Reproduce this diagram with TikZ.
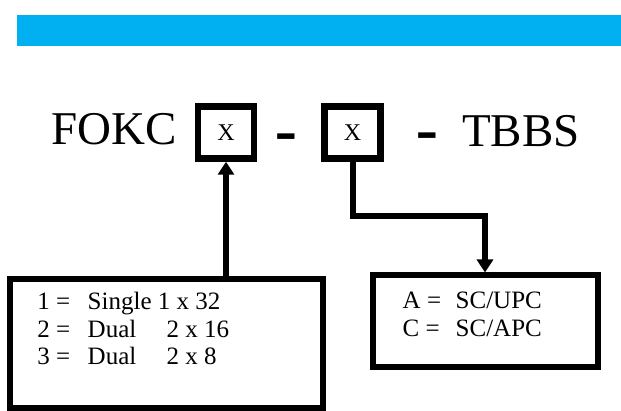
\documentclass[tikz,border=0pt]{standalone}
\usepackage{fontspec}
\setmainfont{Liberation Serif}
\newfontfamily\dashfont{Liberation Sans}
\usetikzlibrary{arrows.meta}
\definecolor{barblue}{HTML}{00B0F0}

\begin{document}
\begin{tikzpicture}[x=1pt,y=-1pt,
    codebox/.style={draw,line width=6.5pt,minimum width=56pt,minimum height=52pt,
      inner sep=0pt,font=\fontsize{24}{24}\selectfont},
    keybox/.style={draw,line width=6pt,inner sep=0pt},
    keyline/.style={anchor=base west,inner sep=0pt,font=\fontsize{25}{27.5}\selectfont},
    bigword/.style={anchor=base west,inner sep=0pt,font=\fontsize{47}{47}\selectfont},
    dashmark/.style={anchor=base,inner sep=0pt,font=\dashfont\fontsize{71}{71}\selectfont},
    link/.style={line width=6pt,-{Triangle[width=16pt,length=13pt]}}]
    \useasboundingbox (0,0) rectangle (621,411);
    \fill[barblue] (17,15) rectangle (621,46);

    % part number
    \node[bigword] (fokc) at (51,145) {FOKC};
    \node[codebox] (xone) at (226,132.5) {X};
    \node[dashmark] (dashone) at (286.5,155.2) {-};
    \node[codebox] (xtwo) at (352.5,132.5) {X};
    \node[dashmark] (dashtwo) at (427.5,154.7) {-};
    \node[bigword] (tbbs) at (462,147) {TBBS};

    % fibre type
    \node[keybox,minimum width=313pt,minimum height=128.5pt] (typebox) at (166.5,343.25) {};
    \node[keyline] (typeone) at (37.2,310) {\makebox[50.3pt][l]{1 =}Single 1 x 32};
    \node[keyline] (typetwo) at (37.2,337.5) {\makebox[50.3pt][l]{2 =}\makebox[78.9pt][l]{Dual}2 x 16};
    \node[keyline] (typethree) at (37.2,365) {\makebox[50.3pt][l]{3 =}\makebox[78.9pt][l]{Dual}2 x 8};

    % connector
    \node[keybox,minimum width=225pt,minimum height=92pt] (conbox) at (485,321.5) {};
    \node[keyline] (conone) at (402.5,309) {\makebox[53pt][l]{A =}SC/UPC};
    \node[keyline] (contwo) at (402.5,336.5) {\makebox[53pt][l]{C =}SC/APC};

    \draw[link] (typebox.north -| xone.south) -- (xone.south);
    \coordinate (turn) at (485,216);
    \draw[link] (xtwo.south) |- (turn) -- (turn |- conbox.north);
  \end{tikzpicture}
\end{document}
